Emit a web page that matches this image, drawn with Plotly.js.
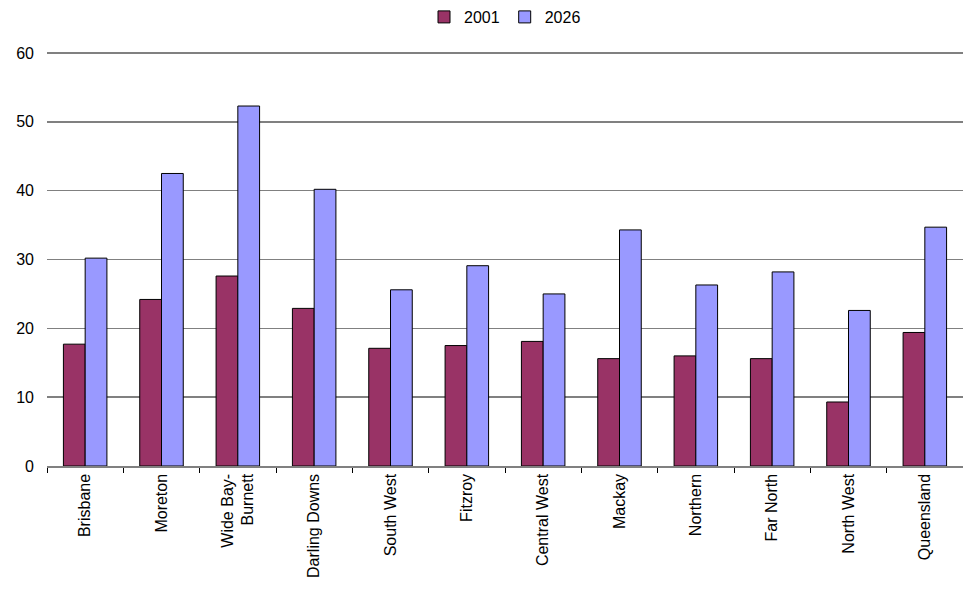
<!DOCTYPE html>
<html>
<head>
<meta charset="utf-8">
<script src="https://cdn.plot.ly/plotly-3.0.1.min.js"></script>
<style>body{margin:0;background:#fff}#chart{width:963px;height:606px}</style>
</head>
<body>
<div id="chart"></div>
<script>
var regions = ["Brisbane", "Moreton", "Wide Bay-<br>Burnett", "Darling Downs", "South West", "Fitzroy",
  "Central West", "Mackay", "Northern", "Far North", "North West", "Queensland"];
var values2001 = [17.7, 24.2, 27.6, 22.9, 17.1, 17.5, 18.1, 15.6, 16.0, 15.6, 9.3, 19.4];
var values2026 = [30.2, 42.5, 52.3, 40.2, 25.6, 29.1, 25.0, 34.3, 26.3, 28.2, 22.6, 34.7];

var data = [
  {type: "bar", name: "2001", x: regions, y: values2001,
   marker: {color: "#993366", line: {color: "#000", width: 1}}},
  {type: "bar", name: "2026", x: regions, y: values2026,
   marker: {color: "#9999ff", line: {color: "#000", width: 1}}}
];

var layout = {
  width: 963, height: 606,
  margin: {l: 47, r: 0, t: 52, b: 140},
  font: {family: "Liberation Sans, Arial, sans-serif", size: 16, color: "#000"},
  paper_bgcolor: "#fff", plot_bgcolor: "#fff",
  barmode: "group", bargap: 0.43, bargroupgap: 0,
  showlegend: true,
  legend: {orientation: "h", x: 0.5, xanchor: "center", y: 1.085, yanchor: "middle",
    font: {size: 16}, itemwidth: 30, tracegroupgap: 0},
  xaxis: {tickangle: -90, showline: true, linecolor: "#808080", linewidth: 1.5,
    ticks: "outside", tickson: "boundaries", ticklen: 5, tickcolor: "#000", automargin: false},
  yaxis: {range: [0, 60.15], tickvals: [0, 10, 20, 30, 40, 50, 60], showgrid: true,
    gridcolor: "#808080", gridwidth: 1.5, zeroline: false, ticks: "", ticklabelstandoff: 12}
};

Plotly.newPlot("chart", data, layout, {staticPlot: true});
</script>
</body>
</html>
